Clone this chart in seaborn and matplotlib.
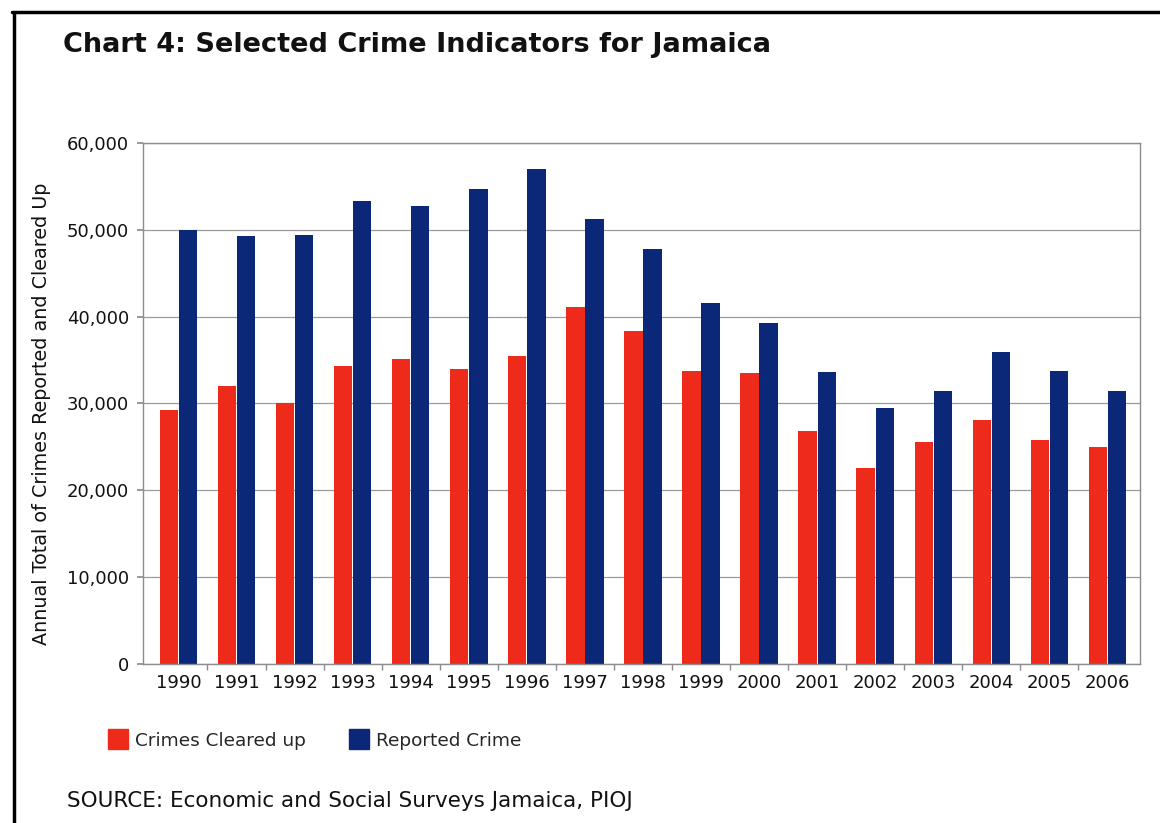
"""
Chart 4: Selected Crime Indicators for Jamaica
"""

# Libraries
import numpy as np
import pandas as pd
import seaborn as sns
import matplotlib.pyplot as plt
from matplotlib.lines import Line2D

# ---------------------------------
# Data
# ---------------------------------
years = ['1990', '1991', '1992', '1993', '1994', '1995', '1996', '1997',
         '1998', '1999', '2000', '2001', '2002', '2003', '2004', '2005', '2006']

cleared = [29200, 32000, 30100, 34300, 35100, 33950, 35500, 41100,
           38400, 33800, 33500, 26800, 22600, 25600, 28100, 25800, 25000]

reported = [50000, 49300, 49400, 53300, 52800, 54700, 57000, 51200,
            47800, 41600, 39300, 33600, 29500, 31400, 35900, 33700, 31400]

series = ['Crimes Cleared up', 'Reported Crime']
colors = ['#EE2A1B', '#0B2878']

# Long format for seaborn
df = pd.DataFrame({
    'year': years * 2,
    'value': cleared + reported,
    'series': [series[0]] * len(years) + [series[1]] * len(years),
})

# ---------------------------------
# Plot
# ---------------------------------
sns.set_theme(style="whitegrid", rc={
    'axes.edgecolor': '#8c8c8c',
    'grid.color': '#9a9a9a',
    'grid.linewidth': 0.9,
})
plt.rcParams['font.family'] = ['DejaVu Sans']

fig = plt.figure(figsize=(11.6, 8.23), dpi=100)
ax = fig.add_axes([143 / 1160, 1 - 664 / 823, 997 / 1160, 521 / 823])

sns.barplot(data=df, x='year', y='value', hue='series',
            palette=colors, width=0.66, gap=0.04, linewidth=0,
            saturation=1, legend=False, ax=ax)

# Axes
ax.set_ylim(0, 60000)
ax.set_xlim(-0.61, 16.56)
ax.set_yticks(np.arange(0, 60001, 10000))
ax.set_yticklabels([f'{v:,}' for v in range(0, 60001, 10000)])
ax.xaxis.grid(False)
ax.set_axisbelow(True)
ax.tick_params(axis='both', labelsize=13, colors='#8c8c8c',
               labelcolor='#111111')
ax.tick_params(axis='x', which='major', length=0, pad=7)
ax.tick_params(axis='y', length=4, pad=6, left=True)
ax.set_xticks(np.arange(0.5, 16, 1), minor=True)
ax.tick_params(axis='x', which='minor', length=4, bottom=True,
               color='#8c8c8c')
for s in ax.spines.values():
    s.set_linewidth(1.0)

ax.set_xlabel('')
ax.set_ylabel('Annual Total of Crimes Reported and Cleared Up',
              fontsize=13.8, color='#111111')
ax.yaxis.set_label_coords(-0.092, 0.48)

# Legend
handles = [Line2D([], [], marker='s', linestyle='', markersize=15,
                  markerfacecolor=c, markeredgecolor=c) for c in colors]
fig.legend(handles, series, loc='center left',
           bbox_to_anchor=(0.086, 0.1), ncol=2, frameon=False,
           fontsize=13.3, handletextpad=0.4, columnspacing=2.4,
           borderpad=0, handlelength=1.0)

# Title and source
fig.text(0.054, 0.945, 'Chart 4: Selected Crime Indicators for Jamaica',
         fontsize=19.5, fontweight='bold', va='center', color='#111111')
fig.text(0.058, 0.027, 'SOURCE: Economic and Social Surveys Jamaica, PIOJ',
         fontsize=15.5, va='center', color='#111111')

# Frame lines (top and left)
fig.add_artist(Line2D([12 / 1160, 1], [1 - 11.5 / 823] * 2,
                      transform=fig.transFigure, color='black', lw=2.5))
fig.add_artist(Line2D([13.5 / 1160] * 2, [0, 1 - 12.5 / 823],
                      transform=fig.transFigure, color='black', lw=2.5))

fig.savefig('out.png', dpi=100)
